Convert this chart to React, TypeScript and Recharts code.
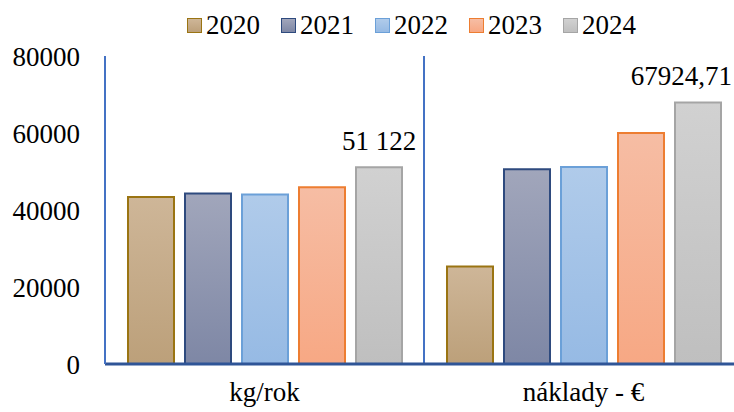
import React from 'react';
import {
  BarChart,
  Bar,
  XAxis,
  YAxis,
  CartesianGrid,
  Legend,
  LabelList,
} from 'recharts';

const categories = ['kg/rok', 'náklady - €'];
const years = ['2020', '2021', '2022', '2023', '2024'];

const values2020 = [43400, 25300];
const values2021 = [44300, 50600];
const values2022 = [44000, 51200];
const values2023 = [45900, 60000];
const values2024 = [51122, 67924.71];
const labels2024 = ['51 122', '67924,71'];

const yTicks = [0, 20000, 40000, 60000, 80000];

const seriesValues = [values2020, values2021, values2022, values2023, values2024];

// top / bottom of the fill gradient, then the outline
const seriesColors = [
  { top: '#CEB698', bottom: '#BCA07A', stroke: '#9A7412' },
  { top: '#A1A6BB', bottom: '#7E87A5', stroke: '#2E4A7E' },
  { top: '#B0CBEA', bottom: '#96BAE4', stroke: '#6BA0D8' },
  { top: '#F6BDA4', bottom: '#F7A884', stroke: '#ED7D31' },
  { top: '#D1D1D1', bottom: '#BFBFBF', stroke: '#A5A5A5' },
];

const chartData = categories.map((name, i) => {
  const row: Record<string, string | number> = { name };
  years.forEach((y, s) => {
    row[y] = seriesValues[s][i];
  });
  return row;
});

const CHART_W = 743;
const CHART_H = 412;
const FONT = 'Liberation Serif, serif';

function LegendContent() {
  return (
    <div
      style={{
        height: 56,
        boxSizing: 'border-box',
        paddingTop: 9,
        paddingLeft: 187,
        display: 'flex',
        alignItems: 'flex-start',
        fontFamily: FONT,
        fontSize: 27,
        lineHeight: '32px',
        color: '#000',
      }}
    >
      {years.map((y, i) => (
        <div
          key={y}
          style={{ display: 'flex', alignItems: 'center', marginRight: 21 }}
        >
          <span
            style={{
              width: 15,
              height: 15,
              boxSizing: 'border-box',
              border: `1.5px solid ${seriesColors[i].stroke}`,
              background: `linear-gradient(${seriesColors[i].top}, ${seriesColors[i].bottom})`,
              marginRight: 4,
            }}
          />
          <span style={{ fontFamily: FONT }}>{y}</span>
        </div>
      ))}
    </div>
  );
}

function TopLabel(props: any) {
  const { x, y, width, index } = props;
  const text = labels2024[index];
  if (!text) return null;
  const cx = x + width / 2;
  const approxW = text.length * 27 * 0.48;
  const overflow = cx + approxW / 2 > CHART_W - 12;
  return (
    <text
      x={overflow ? 732 : cx}
      y={y - 17}
      textAnchor={overflow ? 'end' : 'middle'}
      fontFamily={FONT}
      fontSize={27}
      fill="#000"
    >
      {text}
    </text>
  );
}

// category divider sits on the band boundary between the two groups
const dividerGen = ({ offset }: any) => [
  offset.left + (offset.width / categories.length),
];

export default function App() {
  return (
    <div
      style={{
        position: 'absolute',
        left: 0,
        top: 0,
        width: 734,
        height: 412,
        overflow: 'hidden',
        background: '#fff',
        fontFamily: FONT,
      }}
    >
      <BarChart
        width={CHART_W}
        height={CHART_H}
        data={chartData}
        margin={{ top: 0, right: 0, left: 0, bottom: 0 }}
        barSize={46}
        barGap={11}
        style={{ fontFamily: FONT }}
      >
        <defs>
          {seriesColors.map((c, i) => (
            <linearGradient key={i} id={`grad-${i}`} x1="0" y1="0" x2="0" y2="1">
              <stop offset="0%" stopColor={c.top} />
              <stop offset="100%" stopColor={c.bottom} />
            </linearGradient>
          ))}
        </defs>
        <Legend verticalAlign="top" content={<LegendContent />} />
        <CartesianGrid
          horizontal={false}
          stroke="#4472C4"
          strokeWidth={2}
          verticalCoordinatesGenerator={dividerGen}
        />
        <XAxis
          dataKey="name"
          height={48}
          tickLine={false}
          tickSize={0}
          tickMargin={18}
          axisLine={{ stroke: '#2F5597', strokeWidth: 3 }}
          tick={{ fontSize: 27, fontFamily: FONT, fill: '#000' }}
        />
        <YAxis
          width={105}
          domain={[0, 80000]}
          ticks={yTicks}
          tickLine={false}
          tickSize={0}
          tickMargin={25}
          axisLine={{ stroke: '#4472C4', strokeWidth: 2 }}
          tick={{ fontSize: 27, fontFamily: FONT, fill: '#000' }}
        />
        {years.map((y, i) => (
          <Bar
            key={y}
            dataKey={y}
            fill={`url(#grad-${i})`}
            stroke={seriesColors[i].stroke}
            strokeWidth={2}
            isAnimationActive={false}
          >
            {i === years.length - 1 && <LabelList content={<TopLabel />} />}
          </Bar>
        ))}
      </BarChart>
    </div>
  );
}
